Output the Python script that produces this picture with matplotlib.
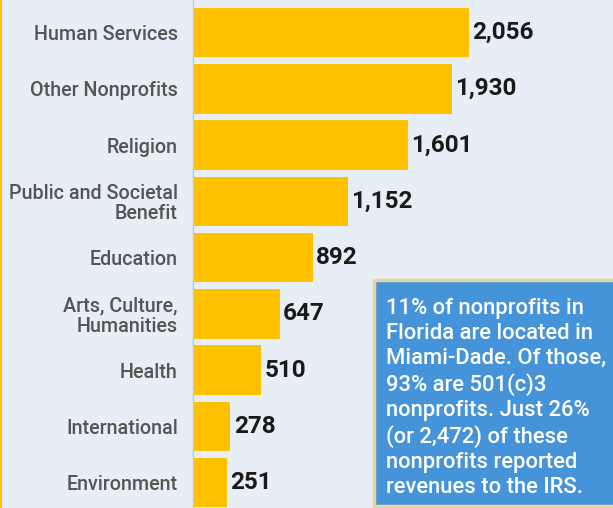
import matplotlib.pyplot as plt
from matplotlib.patches import Rectangle

# Nonprofits by category (Miami-Dade)
categories = ["Human Services", "Other Nonprofits", "Religion",
              "Public and Societal\nBenefit", "Education",
              "Arts, Culture,\nHumanities", "Health", "International",
              "Environment"]
counts = [2056, 1930, 1601, 1152, 892, 647, 510, 278, 251]
note = ("11% of nonprofits in\nFlorida are located in\nMiami-Dade. Of those,\n"
        "93% are 501(c)3\nnonprofits. Just 26%\n(or 2,472) of these\n"
        "nonprofits reported\nrevenues to the IRS.")

BG = "#e8eef6"
GOLD = "#ffc000"

plt.rcParams['font.family'] = ['Roboto', 'DejaVu Sans']

fig = plt.figure(figsize=(6.13, 5.08), dpi=100, facecolor=BG)
ax = fig.add_axes([193 / 613, 0, 420 / 613, 1])
ax.set_facecolor(BG)

y = list(range(len(categories)))
ax.barh(y, counts, height=0.88, color=GOLD, zorder=2)
for yi, v in zip(y, counts):
    ax.text(v + 25, yi, f"{v:,}", va="center", ha="left",
            fontsize=17.5, fontweight="bold", color="#1a1a1a")

ax.set_xlim(0, 3130)
ax.set_ylim(8.45, -0.577)
ax.set_yticks(y)
ax.set_yticklabels(categories, fontsize=14.2, fontweight="medium",
                   color="#555555", linespacing=1.05)
ax.tick_params(axis="y", length=0, pad=11)
ax.set_xticks([])
for s in ["top", "right", "bottom"]:
    ax.spines[s].set_visible(False)
ax.spines["left"].set_color("#c4c8cc")
ax.spines["left"].set_linewidth(1.0)

# thin gold line at the left edge of the image
fig.add_artist(Rectangle((0, 0), 2 / 613, 1, transform=fig.transFigure,
                         facecolor=GOLD, edgecolor="none"))

# blue call-out box (runs off the right edge)
fig.add_artist(Rectangle((374.5 / 613, 2 / 508), 260 / 613, 226 / 508,
                         transform=fig.transFigure, facecolor="#4594da",
                         edgecolor="#e6d49c", linewidth=2.5))
fig.text(386 / 613, 1 - 298 / 508, note, ha="left", va="top",
         fontsize=15.8, fontweight="medium", color="white", linespacing=1.25)

fig.savefig("out.png", dpi=100, facecolor=BG)
